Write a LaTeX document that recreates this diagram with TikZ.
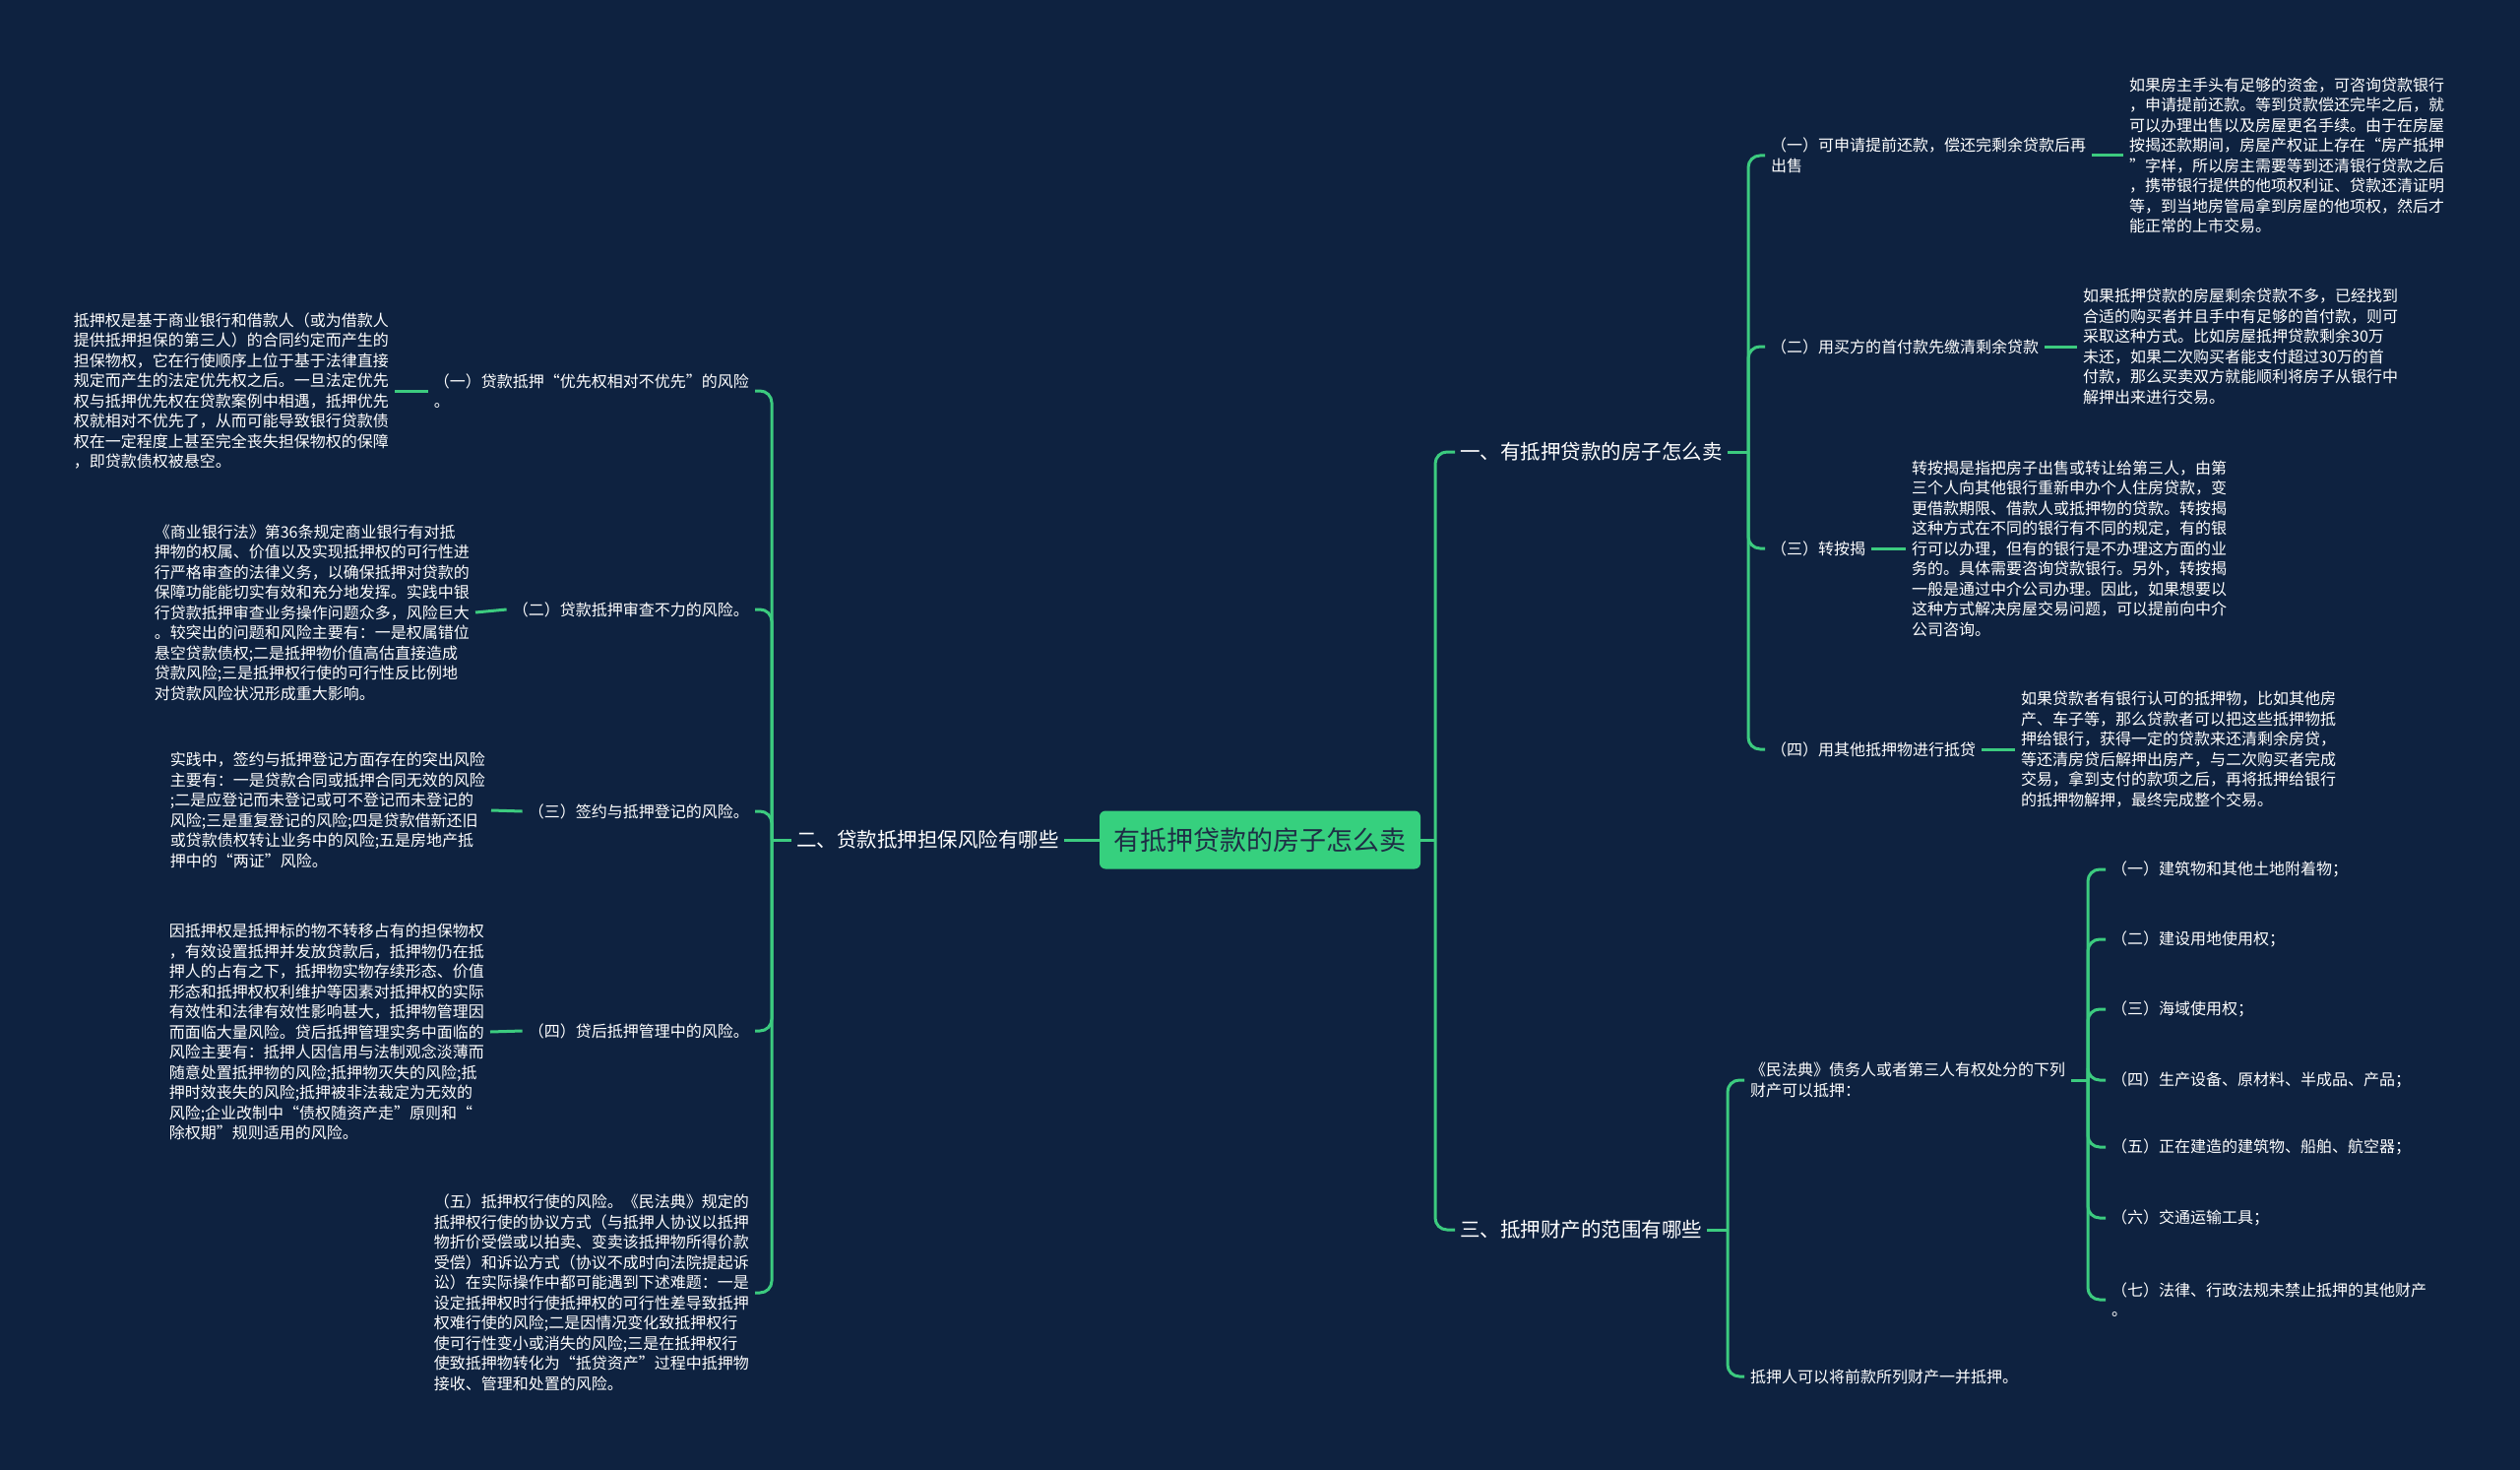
\documentclass[tikz,border=0pt]{standalone}
\usepackage{fontspec}
\setmainfont{Noto Sans CJK SC}
\definecolor{bg}{HTML}{0E2240}
\definecolor{ln}{HTML}{3CCB7F}
\definecolor{ctr}{HTML}{36D07E}
\definecolor{ctrtxt}{HTML}{1E2E45}
\tikzset{
  conn/.style={draw=ln, line width=3pt, rounded corners=12pt},
  txt/.style={text=white, inner xsep=6pt, inner ysep=2pt, align=left, font=\fontsize{16}{20.5}\selectfont},
  lvlone/.style={text=white, inner xsep=5pt, inner ysep=3pt, font=\fontsize{20.5}{24}\selectfont},
  rootbox/.style={fill=ctr, rounded corners=6pt, minimum width=326pt, minimum height=59pt, text=ctrtxt, font=\fontsize{27}{30}\selectfont}
}
\begin{document}
\begin{tikzpicture}[x=1pt,y=-1pt]
\fill[bg] (0,0) rectangle (2560,1493);
\useasboundingbox (0,0) rectangle (2560,1493);

% root and level one
\node[rootbox] (root) at (1280,853) {有抵押贷款的房子怎么卖};
\node[lvlone, anchor=west] (A) at (1478,459) {一、有抵押贷款的房子怎么卖};
\node[lvlone, anchor=west] (C) at (1478,1249) {三、抵押财产的范围有哪些};
\node[lvlone, anchor=east] (B) at (1081,853) {二、贷款抵押担保风险有哪些};

\coordinate (jR) at (1458,853);
\draw[conn] (root.east) -- (jR);
\draw[conn] (jR) |- (A.west);
\draw[conn] (jR) |- (C.west);
\draw[conn] (root.west) -- (B.east);

% ---------- branch A ----------
\node[txt, anchor=west] (A1) at (1793,158) {（一）可申请提前还款，偿还完剩余贷款后再\\出售};
\node[txt, anchor=west] (A2) at (1793,352) {（二）用买方的首付款先缴清剩余贷款};
\node[txt, anchor=west] (A3) at (1793,557) {（三）转按揭};
\node[txt, anchor=west] (A4) at (1793,761) {（四）用其他抵押物进行抵贷};
\coordinate (jA) at (1776,459);
\draw[conn] (A.east) -- (jA);
\foreach \n in {A1,A2,A3,A4} \draw[conn] (jA) |- (\n.west);

\node[txt, anchor=west] (A1t) at (2157,158) {如果房主手头有足够的资金，可咨询贷款银行\\，申请提前还款。等到贷款偿还完毕之后，就\\可以办理出售以及房屋更名手续。由于在房屋\\按揭还款期间，房屋产权证上存在“房产抵押\\”字样，所以房主需要等到还清银行贷款之后\\，携带银行提供的他项权利证、贷款还清证明\\等，到当地房管局拿到房屋的他项权，然后才\\能正常的上市交易。};
\node[txt, anchor=west] (A2t) at (2110,352) {如果抵押贷款的房屋剩余贷款不多，已经找到\\合适的购买者并且手中有足够的首付款，则可\\采取这种方式。比如房屋抵押贷款剩余30万\\未还，如果二次购买者能支付超过30万的首\\付款，那么买卖双方就能顺利将房子从银行中\\解押出来进行交易。};
\node[txt, anchor=west] (A3t) at (1936,557) {转按揭是指把房子出售或转让给第三人，由第\\三个人向其他银行重新申办个人住房贷款，变\\更借款期限、借款人或抵押物的贷款。转按揭\\这种方式在不同的银行有不同的规定，有的银\\行可以办理，但有的银行是不办理这方面的业\\务的。具体需要咨询贷款银行。另外，转按揭\\一般是通过中介公司办理。因此，如果想要以\\这种方式解决房屋交易问题，可以提前向中介\\公司咨询。};
\node[txt, anchor=west] (A4t) at (2047,761) {如果贷款者有银行认可的抵押物，比如其他房\\产、车子等，那么贷款者可以把这些抵押物抵\\押给银行，获得一定的贷款来还清剩余房贷，\\等还清房贷后解押出房产，与二次购买者完成\\交易，拿到支付的款项之后，再将抵押给银行\\的抵押物解押，最终完成整个交易。};
\draw[conn] (A1.east) -- (A1t.west);
\draw[conn] (A2.east) -- (A2t.west);
\draw[conn] (A3.east) -- (A3t.west);
\draw[conn] (A4.east) -- (A4t.west);

% ---------- branch C ----------
\node[txt, anchor=west] (C1) at (1772,1097) {《民法典》债务人或者第三人有权处分的下列\\财产可以抵押：};
\node[txt, anchor=west] (C2) at (1772,1398) {抵押人可以将前款所列财产一并抵押。};
\coordinate (jC) at (1755,1249);
\draw[conn] (C.east) -- (jC);
\draw[conn] (jC) |- (C1.west);
\draw[conn] (jC) |- (C2.west);

\node[txt, anchor=west] (c1) at (2139,883) {（一）建筑物和其他土地附着物；};
\node[txt, anchor=west] (c2) at (2139,954) {（二）建设用地使用权；};
\node[txt, anchor=west] (c3) at (2139,1025) {（三）海域使用权；};
\node[txt, anchor=west] (c4) at (2139,1097) {（四）生产设备、原材料、半成品、产品；};
\node[txt, anchor=west] (c5) at (2139,1165) {（五）正在建造的建筑物、船舶、航空器；};
\node[txt, anchor=west] (c6) at (2139,1237) {（六）交通运输工具；};
\node[txt, anchor=west] (c7) at (2139,1320) {（七）法律、行政法规未禁止抵押的其他财产\\。};
\coordinate (jC1) at (2121,1097);
\draw[conn] (C1.east) -- (jC1);
\foreach \n in {c1,c2,c3,c4,c5,c6,c7} \draw[conn] (jC1) |- (\n.west);

% ---------- branch B ----------
\coordinate (jL) at (784,853);
\draw[conn] (B.west) -- (jL);
\node[txt, anchor=east] (B1) at (767,397) {（一）贷款抵押“优先权相对不优先”的风险\\。};
\node[txt, anchor=east] (B2) at (767,619) {（二）贷款抵押审查不力的风险。};
\node[txt, anchor=east] (B3) at (767,824) {（三）签约与抵押登记的风险。};
\node[txt, anchor=east] (B4) at (767,1047) {（四）贷后抵押管理中的风险。};
\node[txt, anchor=east] (B5) at (767,1313) {（五）抵押权行使的风险。《民法典》规定的\\抵押权行使的协议方式（与抵押人协议以抵押\\物折价受偿或以拍卖、变卖该抵押物所得价款\\受偿）和诉讼方式（协议不成时向法院提起诉\\讼）在实际操作中都可能遇到下述难题：一是\\设定抵押权时行使抵押权的可行性差导致抵押\\权难行使的风险;二是因情况变化致抵押权行\\使可行性变小或消失的风险;三是在抵押权行\\使致抵押物转化为“抵贷资产”过程中抵押物\\接收、管理和处置的风险。};
\foreach \n in {B1,B2,B3,B4,B5} \draw[conn] (jL) |- (\n.east);

\node[txt, anchor=east] (B1t) at (401,397) {抵押权是基于商业银行和借款人（或为借款人\\提供抵押担保的第三人）的合同约定而产生的\\担保物权，它在行使顺序上位于基于法律直接\\规定而产生的法定优先权之后。一旦法定优先\\权与抵押优先权在贷款案例中相遇，抵押优先\\权就相对不优先了，从而可能导致银行贷款债\\权在一定程度上甚至完全丧失担保物权的保障\\，即贷款债权被悬空。};
\node[txt, anchor=east] (B2t) at (483,622) {《商业银行法》第36条规定商业银行有对抵\\押物的权属、价值以及实现抵押权的可行性进\\行严格审查的法律义务，以确保抵押对贷款的\\保障功能能切实有效和充分地发挥。实践中银\\行贷款抵押审查业务操作问题众多，风险巨大\\。较突出的问题和风险主要有：一是权属错位\\悬空贷款债权;二是抵押物价值高估直接造成\\贷款风险;三是抵押权行使的可行性反比例地\\对贷款风险状况形成重大影响。};
\node[txt, anchor=east] (B3t) at (499,823) {实践中，签约与抵押登记方面存在的突出风险\\主要有：一是贷款合同或抵押合同无效的风险\\;二是应登记而未登记或可不登记而未登记的\\风险;三是重复登记的风险;四是贷款借新还旧\\或贷款债权转让业务中的风险;五是房地产抵\\押中的“两证”风险。};
\node[txt, anchor=east] (B4t) at (498,1048) {因抵押权是抵押标的物不转移占有的担保物权\\，有效设置抵押并发放贷款后，抵押物仍在抵\\押人的占有之下，抵押物实物存续形态、价值\\形态和抵押权权利维护等因素对抵押权的实际\\有效性和法律有效性影响甚大，抵押物管理因\\而面临大量风险。贷后抵押管理实务中面临的\\风险主要有：抵押人因信用与法制观念淡薄而\\随意处置抵押物的风险;抵押物灭失的风险;抵\\押时效丧失的风险;抵押被非法裁定为无效的\\风险;企业改制中“债权随资产走”原则和“\\除权期”规则适用的风险。};
\draw[conn] (B1.west) -- (B1t.east);
\draw[conn] (B2.west) -- (B2t.east);
\draw[conn] (B3.west) -- (B3t.east);
\draw[conn] (B4.west) -- (B4t.east);
\end{tikzpicture}
\end{document}
